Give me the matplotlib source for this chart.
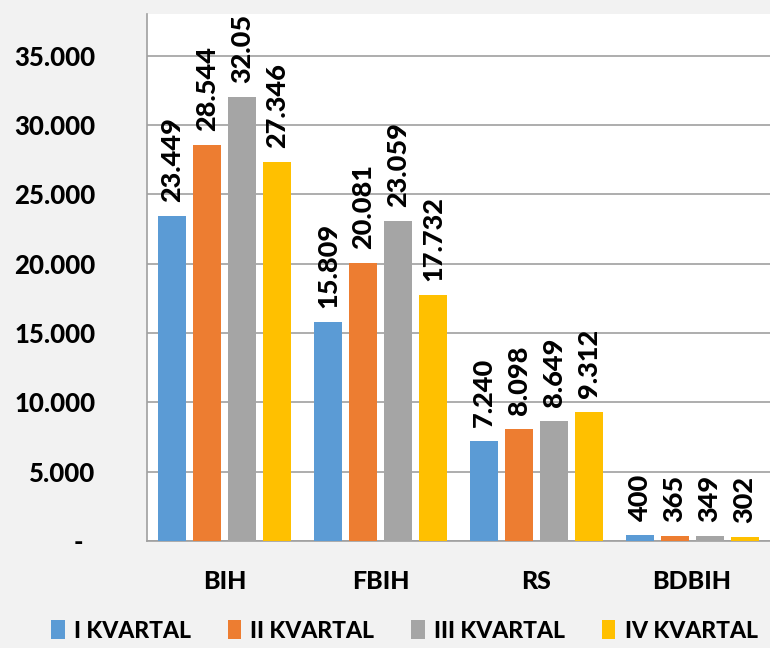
import matplotlib
matplotlib.use("Agg")
import numpy as np
import matplotlib.pyplot as plt

# data
categories = ["BIH", "FBIH", "RS", "BDBIH"]
series_names = ["I KVARTAL", "II KVARTAL", "III KVARTAL", "IV KVARTAL"]
q1 = [23449, 15809, 7240, 400]
q2 = [28544, 20081, 8098, 365]
q3 = [32050, 23059, 8649, 349]
q4 = [27346, 17732, 9312, 302]
q1_labels = ["23.449", "15.809", "7.240", "400"]
q2_labels = ["28.544", "20.081", "8.098", "365"]
q3_labels = ["32.05", "23.059", "8.649", "349"]
q4_labels = ["27.346", "17.732", "9.312", "302"]
yticks = [0, 5000, 10000, 15000, 20000, 25000, 30000, 35000]
ytick_labels = ["-  ", "5.000", "10.000", "15.000", "20.000", "25.000", "30.000", "35.000"]

colors = ["#5b9bd5", "#ed7d31", "#a5a5a5", "#ffc000"]
plt.rcParams['font.family'] = ['Lato', 'DejaVu Sans']
W = "black"

fig = plt.figure(figsize=(7.7, 6.48), dpi=100, facecolor="#f2f2f2")
ax = fig.add_axes([147/770, 107/648, 1 - 147/770, 527/648])
ax.set_facecolor("white")

x = np.arange(len(categories))
step = 0.225
width = 0.18
all_vals = [q1, q2, q3, q4]
all_labels = [q1_labels, q2_labels, q3_labels, q4_labels]
for i in range(4):
  pos = x + (i - 1.5) * step
  ax.bar(pos, all_vals[i], width, color=colors[i], label=series_names[i], zorder=3)
  for px, v, lab in zip(pos, all_vals[i], all_labels[i]):
    ax.annotate(lab, (px, v), xytext=(0, 10), textcoords="offset points",
                rotation=90, ha="center", va="bottom", fontsize=19.5,
                fontweight=W, color="black", annotation_clip=False)

ax.set_xlim(-0.5, 3.5)
ax.set_ylim(0, 38000)
ax.set_yticks(yticks)
ax.set_yticklabels(ytick_labels, fontsize=18.5, fontweight=W)
ax.set_xticks(x)
ax.set_xticklabels(categories, fontsize=18, fontweight=W)
ax.tick_params(axis="y", length=0, pad=37)
ax.tick_params(axis="x", length=0, pad=21)
ax.grid(axis="y", color="#a0a0a0", linewidth=1.2, zorder=0)
for s in ["top", "right"]:
  ax.spines[s].set_visible(False)
ax.spines["left"].set_color("#a0a0a0")
ax.spines["left"].set_linewidth(1.2)
ax.spines["bottom"].set_color("#a0a0a0")
ax.spines["bottom"].set_linewidth(1.2)

leg = fig.legend(loc="lower center", bbox_to_anchor=(0.525, -0.022), ncol=4,
                 frameon=False, handlelength=0.6, handleheight=0.9,
                 handletextpad=0.4, columnspacing=1.6,
                 prop={"weight": W, "size": 16.5})

plt.savefig("out.png", dpi=100, facecolor=fig.get_facecolor())
